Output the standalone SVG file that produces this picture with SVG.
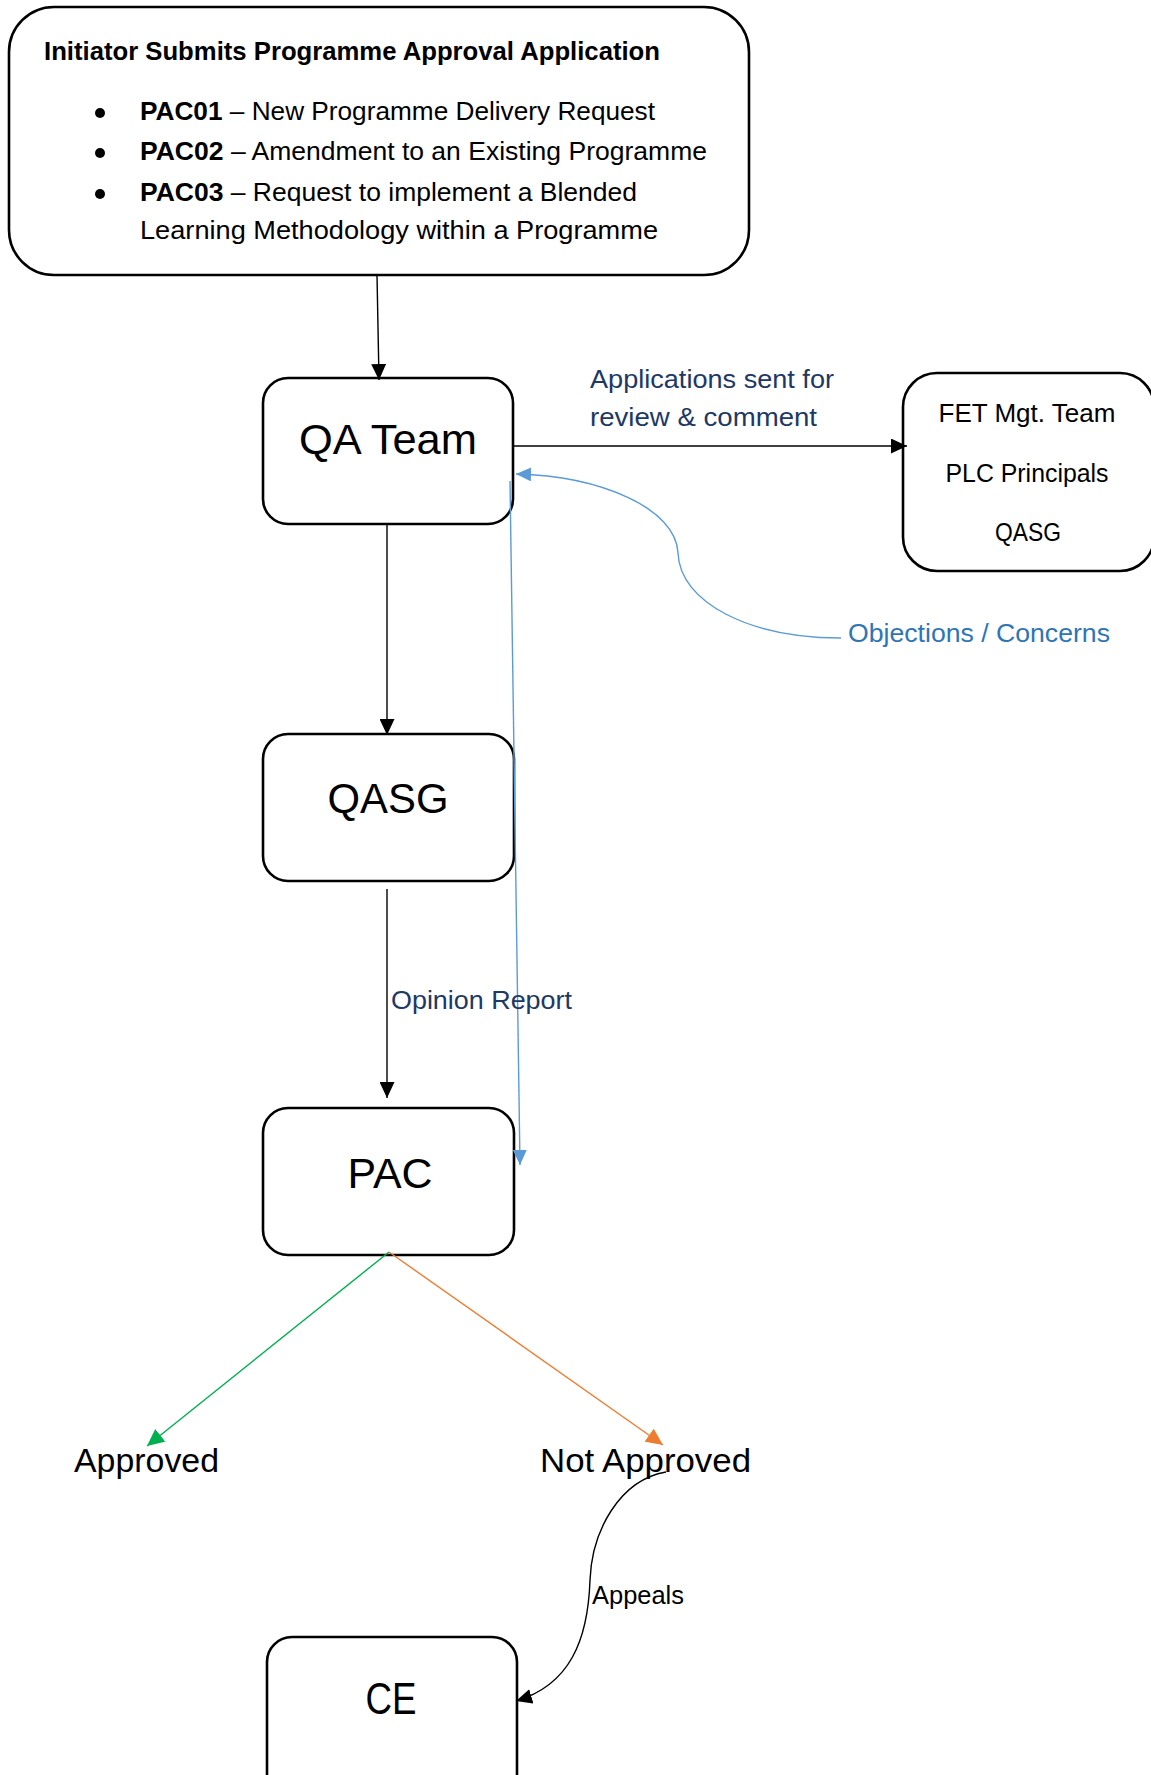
<svg xmlns="http://www.w3.org/2000/svg" width="1151" height="1775" viewBox="0 0 1151 1775">
<style>
  .box{fill:#fff;stroke:#000;stroke-width:2.6}
  .t{font-family:"Liberation Sans",Arial,sans-serif;fill:#000}
  .big{font-size:43px;text-anchor:middle}
  .mid{font-size:25px;text-anchor:middle}
  .navy{fill:#203864}
  .ln{fill:none;stroke:#000;stroke-width:1.4}
</style>
<defs>
  <marker id="ah" markerUnits="userSpaceOnUse" markerWidth="16" markerHeight="15" refX="16" refY="7.5" orient="auto"><path d="M0,0 L16,7.5 L0,15 z" fill="#000"/></marker>
  <marker id="ahb" markerUnits="userSpaceOnUse" markerWidth="15" markerHeight="14" refX="15" refY="7" orient="auto"><path d="M0,0 L15,7 L0,14 z" fill="#5B9BD5"/></marker>
  <marker id="ahg" markerUnits="userSpaceOnUse" markerWidth="17" markerHeight="16" refX="17" refY="8" orient="auto"><path d="M0,0 L17,8 L0,16 z" fill="#00B050"/></marker>
  <marker id="aho" markerUnits="userSpaceOnUse" markerWidth="17" markerHeight="16" refX="17" refY="8" orient="auto"><path d="M0,0 L17,8 L0,16 z" fill="#ED7D31"/></marker>
</defs>

<g id="initiator">
  <rect class="box" x="9" y="7" width="740" height="268" rx="45" ry="45"/>
  <text class="t" x="44" y="60" font-size="25" font-weight="bold" textLength="616" lengthAdjust="spacingAndGlyphs">Initiator Submits Programme Approval Application</text>
  <circle cx="100" cy="113" r="5"/>
  <circle cx="100" cy="153" r="5"/>
  <circle cx="100" cy="194" r="5"/>
  <text class="t" x="140" y="120" font-size="26" textLength="515" lengthAdjust="spacingAndGlyphs"><tspan font-weight="bold">PAC01</tspan> – New Programme Delivery Request</text>
  <text class="t" x="140" y="160" font-size="26" textLength="567" lengthAdjust="spacingAndGlyphs"><tspan font-weight="bold">PAC02</tspan> – Amendment to an Existing Programme</text>
  <text class="t" x="140" y="201" font-size="26" textLength="497" lengthAdjust="spacingAndGlyphs"><tspan font-weight="bold">PAC03</tspan> – Request to implement a Blended</text>
  <text class="t" x="140" y="239" font-size="26" textLength="518" lengthAdjust="spacingAndGlyphs">Learning Methodology within a Programme</text>
</g>

<g id="qa-team">
  <rect class="box" x="263" y="378" width="250" height="146" rx="25" ry="25"/>
  <text class="t big" x="388" y="454" textLength="178" lengthAdjust="spacingAndGlyphs">QA Team</text>
</g>

<g id="reviewers">
  <rect class="box" x="903" y="373" width="251" height="198" rx="34" ry="34"/>
  <text class="t mid" x="1027" y="422" textLength="177" lengthAdjust="spacingAndGlyphs">FET Mgt. Team</text>
  <text class="t mid" x="1027" y="482" textLength="163" lengthAdjust="spacingAndGlyphs">PLC Principals</text>
  <text class="t mid" x="1028" y="541" textLength="66" lengthAdjust="spacingAndGlyphs">QASG</text>
</g>

<g id="qasg">
  <rect class="box" x="263" y="734" width="251" height="147" rx="25" ry="25"/>
  <text class="t big" x="388" y="813" textLength="121" lengthAdjust="spacingAndGlyphs">QASG</text>
</g>

<g id="pac">
  <rect class="box" x="263" y="1108" width="251" height="147" rx="25" ry="25"/>
  <text class="t big" x="390" y="1188" textLength="85" lengthAdjust="spacingAndGlyphs">PAC</text>
</g>

<g id="approved">
  <text class="t" x="74" y="1472" font-size="34" textLength="145" lengthAdjust="spacingAndGlyphs">Approved</text>
</g>

<g id="not-approved">
  <text class="t" x="540" y="1472" font-size="34" textLength="211" lengthAdjust="spacingAndGlyphs">Not Approved</text>
</g>

<g id="ce">
  <rect class="box" x="267" y="1637" width="250" height="170" rx="25" ry="25"/>
  <text class="t" x="391" y="1714" font-size="45" text-anchor="middle" textLength="51" lengthAdjust="spacingAndGlyphs">CE</text>
</g>

<g id="connectors">
  <line class="ln" x1="377" y1="275" x2="379" y2="380" marker-end="url(#ah)"/>
  <line class="ln" x1="513" y1="446" x2="907" y2="446" marker-end="url(#ah)"/>
  <text class="t navy" x="590" y="388" font-size="26" textLength="244" lengthAdjust="spacingAndGlyphs">Applications sent for</text>
  <text class="t navy" x="590" y="426" font-size="26" textLength="227" lengthAdjust="spacingAndGlyphs">review &amp; comment</text>

  <path d="M 841 638 C 750 638, 680 603, 678 553 C 676 508, 600 476, 516 474" fill="none" stroke="#5B9BD5" stroke-width="1.4" marker-end="url(#ahb)"/>
  <text class="t" x="848" y="642" font-size="26" style="fill:#2E75B6" textLength="262" lengthAdjust="spacingAndGlyphs">Objections / Concerns</text>

  <line x1="510" y1="481" x2="520" y2="1165" stroke="#5B9BD5" stroke-width="1.4" marker-end="url(#ahb)"/>

  <line class="ln" x1="387" y1="524" x2="387" y2="735" marker-end="url(#ah)"/>
  <line class="ln" x1="387" y1="889" x2="387" y2="1098" marker-end="url(#ah)"/>
  <text class="t navy" x="391" y="1009" font-size="26" textLength="181" lengthAdjust="spacingAndGlyphs">Opinion Report</text>

  <line x1="389" y1="1252" x2="147" y2="1446" stroke="#00B050" stroke-width="1.4" marker-end="url(#ahg)"/>
  <line x1="389" y1="1252" x2="663" y2="1445" stroke="#ED7D31" stroke-width="1.4" marker-end="url(#aho)"/>

  <path d="M 666 1472 C 620 1480, 592 1530, 590 1580 C 588 1640, 570 1685, 516 1701" class="ln" marker-end="url(#ah)"/>
  <text class="t" x="592" y="1604" font-size="25" textLength="92" lengthAdjust="spacingAndGlyphs">Appeals</text>
</g>
</svg>
